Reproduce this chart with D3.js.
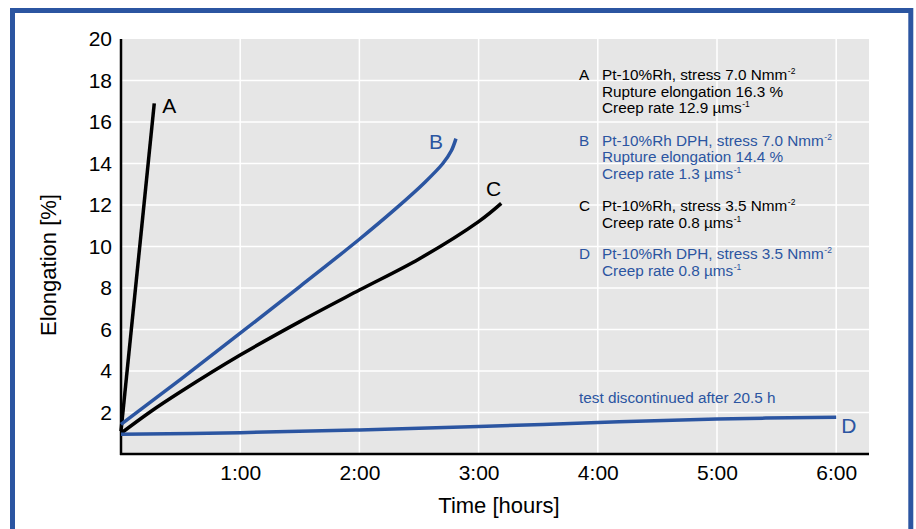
<!DOCTYPE html>
<html>
<head>
<meta charset="utf-8">
<script src="https://cdn.jsdelivr.net/npm/d3@7"></script>
<style>
  html, body { margin: 0; padding: 0; background: #fff; }
  svg { display: block; font-family: "Liberation Sans", Arial, Helvetica, sans-serif; }
</style>
</head>
<body>
<svg id="chart" width="916" height="529"></svg>
<script>
// Creep curves: time [h] vs elongation [%]
const curveA = [[0, 1.1], [0.279, 16.9]];
const curveB = [[0, 1.43], [0.5, 3.6], [1.0, 5.82], [1.5, 8.07], [2.0, 10.35], [2.3, 11.8], [2.55, 13.1], [2.7, 14.0], [2.77, 14.6], [2.81, 15.2]];
const curveC = [[0, 1.0], [0.25, 2.05], [0.5, 3.0], [1.0, 4.77], [1.5, 6.38], [2.0, 7.9], [2.5, 9.4], [3.0, 11.2], [3.19, 12.08]];
const curveD = [[0, 0.95], [1.0, 1.03], [2.0, 1.16], [3.0, 1.32], [4.0, 1.52], [5.0, 1.69], [6.0, 1.77]];

const xTicks = [1, 2, 3, 4, 5, 6];
const xTickLabels = ["1:00", "2:00", "3:00", "4:00", "5:00", "6:00"];
const yTicks = [2, 4, 6, 8, 10, 12, 14, 16, 18, 20];

const legendLetters = ["A", "B", "C", "D"];
const legendLines = [
  [["Pt-10%Rh, stress 7.0 Nmm", "-2"], ["Rupture elongation 16.3 %", ""], ["Creep rate 12.9 µms", "-1"]],
  [["Pt-10%Rh DPH, stress 7.0 Nmm", "-2"], ["Rupture elongation 14.4 %", ""], ["Creep rate 1.3 µms", "-1"]],
  [["Pt-10%Rh, stress 3.5 Nmm", "-2"], ["Creep rate 0.8 µms", "-1"]],
  [["Pt-10%Rh DPH, stress 3.5 Nmm", "-2"], ["Creep rate 0.8 µms", "-1"]]
];
const noteText = "test discontinued after 20.5 h";

const BLUE = "#2b55a1";
const BLACK = "#000";

const svg = d3.select("#chart");

// outer frame
svg.append("rect")
  .attr("x", 12.5).attr("y", 10.5)
  .attr("width", 898.3).attr("height", 600)
  .attr("fill", "#fff")
  .attr("stroke", BLUE).attr("stroke-width", 5);

const plotL = 121, plotT = 39, plotR = 869, plotB = 454;
const x = d3.scaleLinear().domain([0, 6.28]).range([plotL, plotL + 6.28 * 119.2]);
const y = d3.scaleLinear().domain([0, 20]).range([plotB, plotT]);

// plot background
svg.append("rect")
  .attr("x", plotL).attr("y", plotT)
  .attr("width", plotR - plotL).attr("height", plotB - plotT)
  .attr("fill", "#e6e6e6");

// gridlines
svg.append("g").selectAll("line").data(yTicks.filter(d => d < 20)).join("line")
  .attr("x1", plotL).attr("x2", plotR)
  .attr("y1", d => y(d)).attr("y2", d => y(d))
  .attr("stroke", "#fff").attr("stroke-width", 1.5);
svg.append("g").selectAll("line").data(xTicks).join("line")
  .attr("x1", d => x(d)).attr("x2", d => x(d))
  .attr("y1", plotT).attr("y2", plotB)
  .attr("stroke", "#fff").attr("stroke-width", 1.5);

// axes
const yAxis = d3.axisLeft(y).tickValues(yTicks).tickSize(0).tickPadding(9);
const gy = svg.append("g").attr("transform", `translate(${plotL},0)`).call(yAxis);
gy.select(".domain").remove();
gy.selectAll("text").attr("font-size", 21).attr("fill", BLACK)
  .attr("font-family", "Liberation Sans, Arial, sans-serif");

const xAxis = d3.axisBottom(x).tickValues(xTicks)
  .tickFormat((d, i) => xTickLabels[i]).tickSize(0).tickPadding(11);
const gx = svg.append("g").attr("transform", `translate(0,${plotB})`).call(xAxis);
gx.select(".domain").remove();
gx.selectAll("text").attr("font-size", 21).attr("fill", BLACK)
  .attr("font-family", "Liberation Sans, Arial, sans-serif");

svg.append("line").attr("x1", plotL).attr("x2", plotL).attr("y1", plotT).attr("y2", plotB + 1)
  .attr("stroke", BLACK).attr("stroke-width", 2.5);
svg.append("line").attr("x1", plotL - 1).attr("x2", plotR).attr("y1", plotB).attr("y2", plotB)
  .attr("stroke", BLACK).attr("stroke-width", 2.5);

// axis titles
svg.append("text")
  .attr("transform", `translate(56,265) rotate(-90)`)
  .attr("text-anchor", "middle").attr("font-size", 22).attr("fill", BLACK)
  .text("Elongation [%]");
svg.append("text")
  .attr("x", (plotL + plotR) / 2 + 4).attr("y", 513)
  .attr("text-anchor", "middle").attr("font-size", 22).attr("fill", BLACK)
  .text("Time [hours]");

// curves
const line = d3.line().x(d => x(d[0])).y(d => y(d[1])).curve(d3.curveCatmullRom.alpha(0.5));
const curves = [
  { data: curveA, color: BLACK, label: "A", dx: 8, dy: 10, anchor: "start" },
  { data: curveB, color: BLUE, label: "B", dx: -13, dy: 10.5, anchor: "end" },
  { data: curveC, color: BLACK, label: "C", dx: 0, dy: -7, anchor: "end" },
  { data: curveD, color: BLUE, label: "D", dx: 5, dy: 15.5, anchor: "start" }
];
curves.forEach(c => {
  svg.append("path").datum(c.data)
    .attr("d", line)
    .attr("fill", "none").attr("stroke", c.color).attr("stroke-width", 3.5)
    .attr("stroke-linejoin", "round");
  const end = c.data[c.data.length - 1];
  svg.append("text")
    .attr("x", x(end[0]) + c.dx).attr("y", y(end[1]) + c.dy)
    .attr("text-anchor", c.anchor).attr("font-size", 21).attr("fill", c.color)
    .text(c.label);
});

// legend: main line text plus a separate raised exponent placed after it
const legendColors = [BLACK, BLUE, BLACK, BLUE];
const blockTops = [80, 145.7, 211, 259];
const lineGap = 16.7;
legendLetters.forEach((letter, i) => {
  const g = svg.append("g").attr("fill", legendColors[i]).attr("font-size", 15.3);
  g.append("text").attr("x", 579).attr("y", blockTops[i]).text(letter);
  legendLines[i].forEach((ln, j) => {
    const yy = blockTops[i] + j * lineGap;
    const t = g.append("text").attr("x", 602).attr("y", yy).text(ln[0]);
    if (ln[1]) {
      const w = t.node().getComputedTextLength();
      g.append("text").attr("x", 602 + w + 0.5).attr("y", yy - 6)
        .attr("font-size", 8.5).text(ln[1]);
    }
  });
});

svg.append("text")
  .attr("x", 579).attr("y", 403.3)
  .attr("font-size", 15.3).attr("fill", BLUE)
  .text(noteText);
</script>
</body>
</html>
